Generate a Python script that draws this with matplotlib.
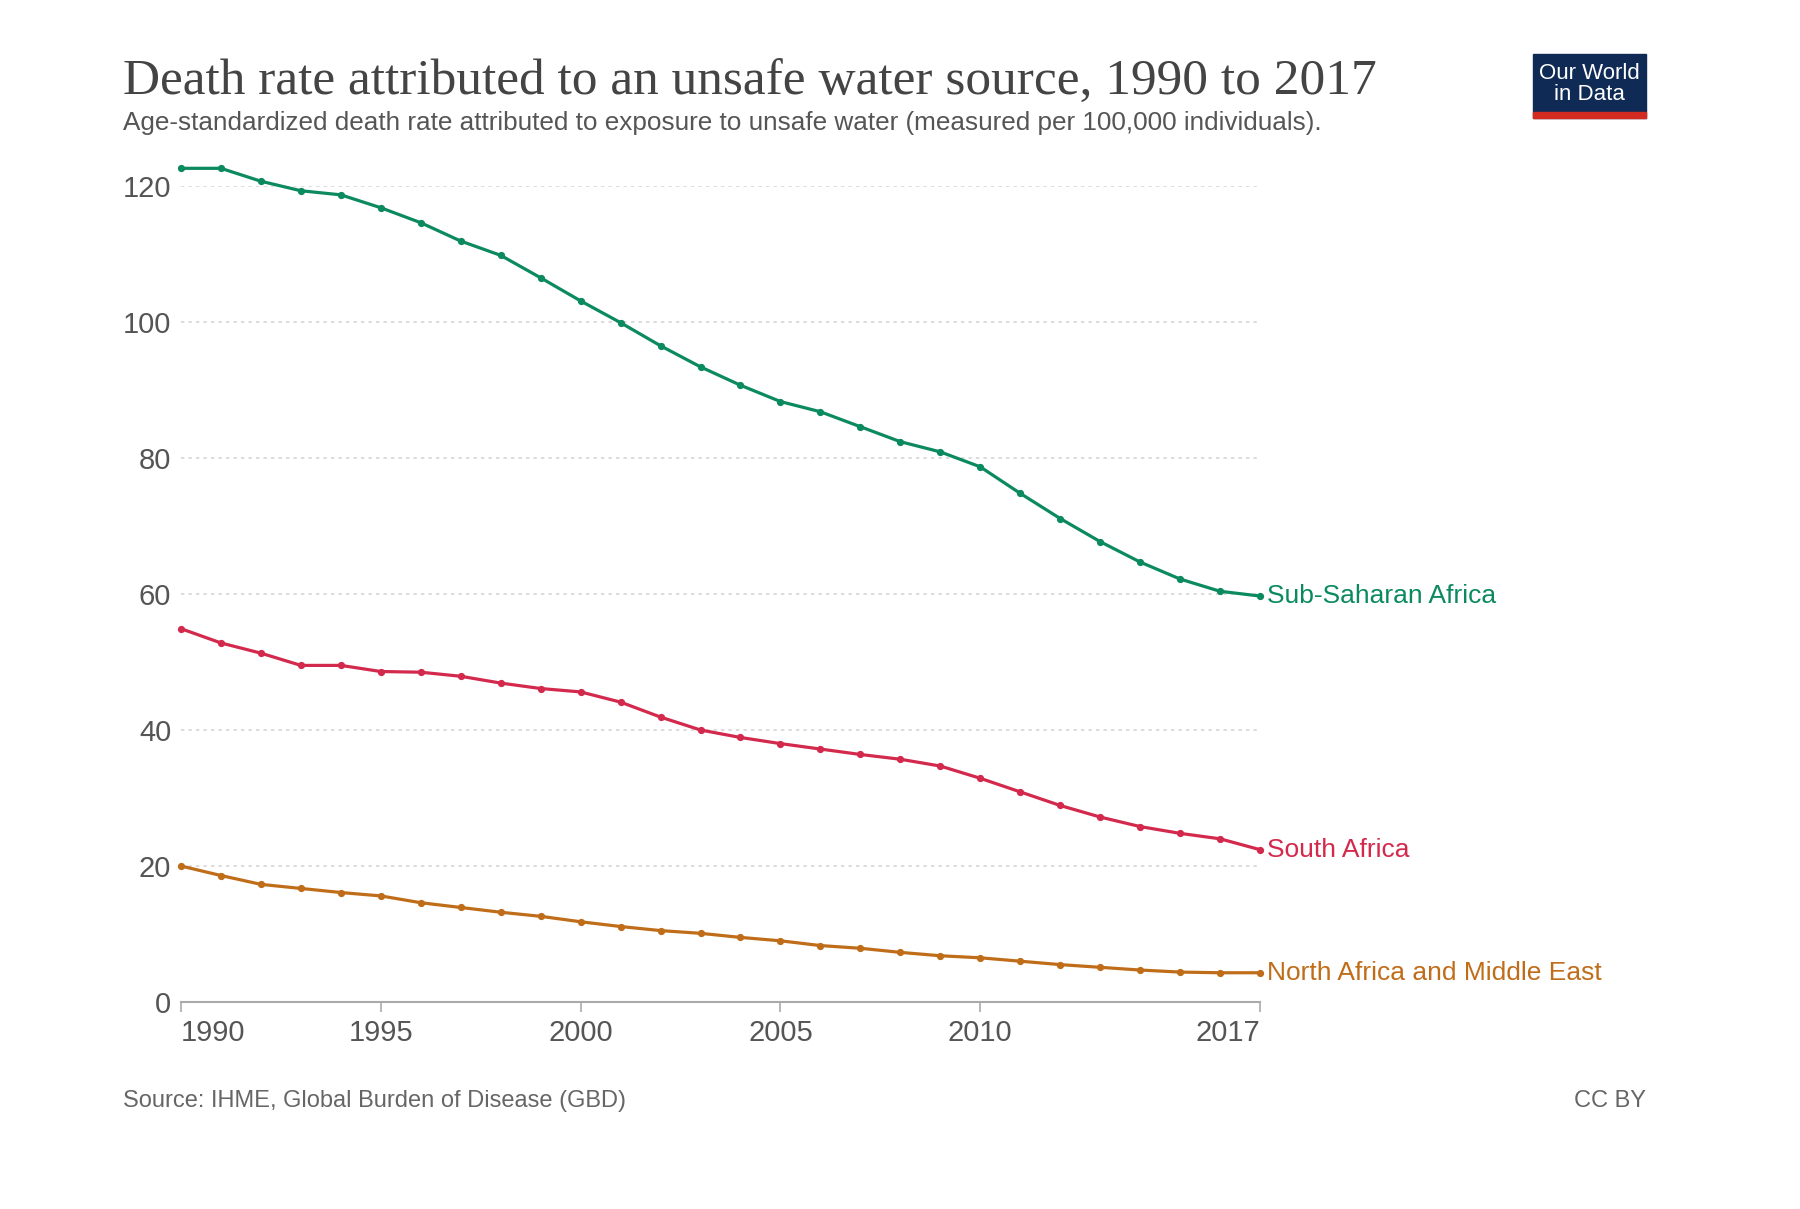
import matplotlib
matplotlib.use("Agg")
from matplotlib import pyplot as plt
from matplotlib.patches import Rectangle

years = list(range(1990, 2018))

sub_saharan = [122.6, 122.6, 120.7, 119.3, 118.7, 116.8, 114.6, 111.9, 109.8, 106.5,
               103.1, 99.9, 96.5, 93.4, 90.7, 88.3, 86.8, 84.6, 82.4, 80.9,
               78.7, 74.8, 71.1, 67.7, 64.7, 62.2, 60.4, 59.7]
south_africa = [54.9, 52.8, 51.3, 49.5, 49.5, 48.6, 48.5, 47.9, 46.9, 46.1,
                45.6, 44.1, 41.9, 40.0, 38.9, 38.0, 37.2, 36.4, 35.7, 34.7,
                32.9, 30.9, 28.9, 27.2, 25.8, 24.8, 24.0, 22.4]
north_africa_me = [20.0, 18.6, 17.3, 16.7, 16.1, 15.6, 14.6, 13.9, 13.2, 12.6,
                   11.8, 11.1, 10.5, 10.1, 9.5, 9.0, 8.3, 7.9, 7.3, 6.8,
                   6.5, 6.0, 5.5, 5.1, 4.7, 4.4, 4.3, 4.3]

series_names = ["Sub-Saharan Africa", "South Africa", "North Africa and Middle East"]
series_values = [sub_saharan, south_africa, north_africa_me]
series_colors = ["#0c8a5f", "#d3294c", "#c06d1a"]

x_ticks = [1990, 1995, 2000, 2005, 2010, 2017]
y_ticks = [0, 20, 40, 60, 80, 100, 120]

title = "Death rate attributed to an unsafe water source, 1990 to 2017"
subtitle = ("Age-standardized death rate attributed to exposure to unsafe water "
            "(measured per 100,000 individuals).")
source = "Source: IHME, Global Burden of Disease (GBD)"

plt.rcParams["font.family"] = ["Liberation Sans", "DejaVu Sans"]

W, H = 1800, 1209
fig = plt.figure(figsize=(W / 100, H / 100), dpi=100)
fig.patch.set_facecolor("white")

# axes box in pixel terms: 1990 at x=181, 2017 at x=1260, 0 at y=1002, 120 at y=186
ax = fig.add_axes([181 / W, 1 - 1002 / H, (1260 - 181) / W, (1002 - 186) / H])
ax.set_xlim(1990, 2017)
ax.set_ylim(0, 120)

for name, vals, col in zip(series_names, series_values, series_colors):
    ax.plot(years, vals, color=col, lw=2.3, marker="o", ms=4.2, clip_on=False, zorder=3)
    ax.annotate(name, (years[-1], vals[-1]), xytext=(5, 0), textcoords="offset points",
                color=col, fontsize=19, va="center", ha="left", annotation_clip=False)

for y in y_ticks[1:]:
    ax.axhline(y, color="#d6d6d6", lw=1.2, ls=(0, (2, 2.5)), zorder=1)

for s in ["top", "right", "left"]:
    ax.spines[s].set_visible(False)
ax.spines["bottom"].set_color("#aaaaaa")
ax.spines["bottom"].set_linewidth(1.5)

ax.set_yticks(y_ticks)
ax.set_yticklabels([str(v) for v in y_ticks])
ax.tick_params(axis="y", length=0, pad=7, labelsize=21, labelcolor="#555555")
ax.set_xticks(x_ticks)
ax.set_xticklabels([str(v) for v in x_ticks])
ax.tick_params(axis="x", length=7, width=1.2, color="#aaaaaa", pad=5,
               labelsize=21, labelcolor="#555555")
xlabels = ax.get_xticklabels()
xlabels[0].set_ha("left")
xlabels[-1].set_ha("right")

fig.text(123 / W, 1 - 95 / H, title, fontsize=37, color="#444444",
         family=["Liberation Serif", "DejaVu Serif"], va="baseline")
fig.text(123 / W, 1 - 130 / H, subtitle, fontsize=18.8, color="#555555", va="baseline")
fig.text(123 / W, 1 - 1107 / H, source, fontsize=17, color="#666666", va="baseline")
fig.text(1646 / W, 1 - 1107 / H, "CC BY", fontsize=17, color="#666666",
         va="baseline", ha="right")

# logo
fig.patches.append(Rectangle((1533 / W, 1 - 118 / H), 113 / W, 64 / H,
                             transform=fig.transFigure, color="#0f2a55", zorder=5))
fig.patches.append(Rectangle((1533 / W, 1 - 118 / H), 113 / W, 6 / H,
                             transform=fig.transFigure, color="#d42b21", zorder=6))
fig.text(1589.5 / W, 1 - 84 / H, "Our World\nin Data", fontsize=16, color="white",
         ha="center", va="center", linespacing=0.95, zorder=7)

fig.savefig("out.png", dpi=100)
